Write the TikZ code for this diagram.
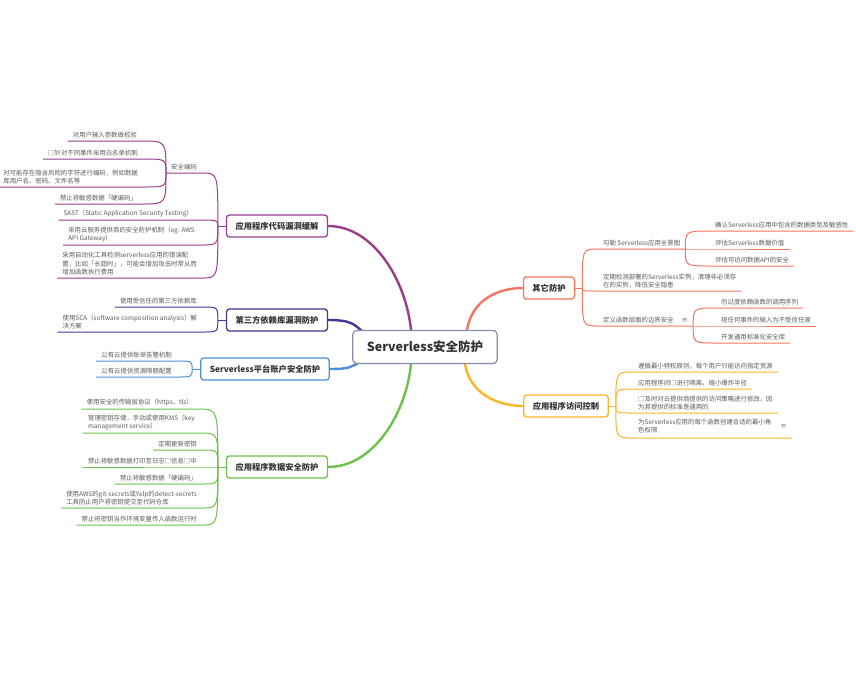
\documentclass[tikz,border=0pt]{standalone}
\usepackage{fontspec}
\setmainfont{Noto Sans CJK SC}
\usetikzlibrary{backgrounds}
\definecolor{codec}{RGB}{152, 62, 140}
\definecolor{libc}{RGB}{72, 54, 150}
\definecolor{acctc}{RGB}{78, 142, 216}
\definecolor{datac}{RGB}{108, 194, 74}
\definecolor{otherc}{RGB}{246, 116, 96}
\definecolor{accessc}{RGB}{251, 182, 40}
\definecolor{rootc}{RGB}{132, 142, 168}
\definecolor{titletext}{RGB}{51, 51, 51}
\definecolor{itemtext}{RGB}{90, 90, 90}

\begin{document}
\begin{tikzpicture}[x=1pt, y=-1pt,
    topic/.style={draw, line width=1.3pt, rounded corners=3pt, fill=white, text=titletext,
        font=\fontsize{8.3}{10}\selectfont\bfseries, inner xsep=9pt, minimum height=22pt},
    leftitem/.style={anchor=south east, inner xsep=5pt, inner ysep=2.5pt, align=left,
        text=itemtext, font=\fontsize{6.4}{8.6}\selectfont},
    rightitem/.style={leftitem, anchor=south west},
    link/.style={line width=1pt},
    trunk/.style={line width=2.4pt, line cap=round}]

        \useasboundingbox (0,0) rectangle (856,683);

        \node[draw=rootc, line width=1.2pt, rounded corners=4pt, fill=white, text=titletext,
            font=\fontsize{12.5}{15}\selectfont\bfseries, inner xsep=14pt, minimum height=33pt]
            (root) at (425,347) {Serverless安全防护};

        % main topics
        \node[topic, draw=codec] (b1) at (277,226) {应用程序代码漏洞缓解};
        \node[topic, draw=libc] (b2) at (277,320) {第三方依赖库漏洞防护};
        \node[topic, draw=acctc] (b3) at (265,369) {Serverless平台账户安全防护};
        \node[topic, draw=datac] (b4) at (277,467) {应用程序数据安全防护};
        \node[topic, draw=otherc] (b5) at (549,288) {其它防护};
        \node[topic, draw=accessc] (b6) at (566,406) {应用程序访问控制};

        \coordinate (j1) at ([xshift=-8pt]b1.west);
        \coordinate (j2) at ([xshift=-8pt]b2.west);
        \coordinate (j3) at ([xshift=-8pt]b3.west);
        \coordinate (j4) at ([xshift=-8pt]b4.west);
        \coordinate (j5) at ([xshift=7pt]b5.east);
        \coordinate (j6) at ([xshift=7pt]b6.east);

        % code
        \node[leftitem] (aq) at (202,173) {安全编码};
        \node[leftitem] (a1) at (142,141) {对用户输入参数做校验};
        \node[leftitem] (a2) at (143,159) {□针对不同事件采用白名单机制};
        \node[leftitem] (a3) at (143,187) {对可能存在隐含风险的字符进行编码，例如数据\\库用户名、密码、文件名等};
        \node[leftitem] (a4) at (142,204) {禁止将敏感数据「硬编码」};
        \node[leftitem] (a5) at (198,220) {SAST（Static Application Security Testing）};
        \node[leftitem] (a6) at (200,245) {采用云服务提供商的安全防护机制（eg. AWS\\API Gateway）};
        \node[leftitem] (a7) at (202,278) {采用自动化工具检测serverless应用的错误配\\置，比如「长超时」，可能会增加攻击时常从而\\增加函数执行费用};

        % libraries
        \node[leftitem] (c1) at (202,307) {使用受信任的第三方依赖库};
        \node[leftitem] (c2) at (202,332) {使用SCA（software composition analysis）解\\决方案};

        % account
        \node[leftitem] (d1) at (177,361) {公有云提供账单告警机制};
        \node[leftitem] (d2) at (177,377) {公有云提供资源限额配置};

        % data
        \node[leftitem] (e1) at (198,409) {使用安全的传输层协议（https、tls）};
        \node[leftitem] (e2) at (200,433) {管理密钥存储，手动或使用KMS（key\\management service）};
        \node[leftitem] (e3) at (202,450) {定期更新密钥};
        \node[leftitem] (e4) at (202,467) {禁止将敏感数据打印至日志□信息□中};
        \node[leftitem] (e5) at (202,484) {禁止将敏感数据「硬编码」};
        \node[leftitem] (e6) at (202,508) {使用AWS的git-secrets或Yelp的detect-secrets\\工具防止用户将密钥提交至代码仓库};
        \node[leftitem] (e7) at (202,525) {禁止将密钥当作环境变量传入函数运行时};

        % other
        \node[rightitem] (f1) at (598,249) {勾勒 Serverless应用全景图};
        \node[rightitem] (f11) at (710,231) {确认Serverless应用中包含的数据类型及敏感性};
        \node[rightitem] (f12) at (710,249) {评估Serverless数据价值};
        \node[rightitem] (f13) at (710,266) {评估可访问数据API的安全};
        \node[rightitem] (f2) at (598,291) {定期检测部署的Serverless实例，清理非必须存\\在的实例，降低安全隐患};
        \node[rightitem] (f3) at (598,326) {定义函数层面的边界安全\hspace{8pt}≡};
        \node[rightitem] (f31) at (716,308) {勿过度依赖函数的调用序列};
        \node[rightitem] (f32) at (716,326) {视任何事件的输入为不受信任源};
        \node[rightitem] (f33) at (716,343) {开发通用标准化安全库};

        % access
        \node[rightitem] (g1) at (633,372) {遵循最小特权原则，每个用户只能访问指定资源};
        \node[rightitem] (g2) at (633,389) {应用程序间□进行隔离，缩小爆炸半径};
        \node[rightitem] (g3) at (633,413) {□及时对云提供商提供的访问策略进行修改，因\\为其提供的标准是通用的};
        \node[rightitem] (g4) at (633,438) {\begin{tabular}{@{}l@{}}为Serverless应用的每个函数创建合适的最小角\\色权限\end{tabular}\hspace{9pt}≡};

        \begin{scope}[on background layer]
            \fill[white] (0,0) rectangle (856,683);

            \draw[trunk, codec] ([xshift=-14pt]root.north) .. controls +(-5,-50) and +(45,0) .. (b1.east);
            \draw[trunk, libc] ([xshift=12pt,yshift=-3pt]root.north west) .. controls +(-10,-8) and +(25,0) .. (b2.east);
            \draw[trunk, acctc] ([xshift=8pt,yshift=2pt]root.south west) .. controls +(-10,5) and +(20,0) .. (b3.east);
            \draw[trunk, datac] ([xshift=-14pt]root.south) .. controls +(-5,50) and +(45,0) .. (b4.east);
            \draw[trunk, otherc] ([xshift=42pt]root.north) .. controls +(5,-30) and +(-25,0) .. (b5.west);
            \draw[trunk, accessc] ([xshift=40pt]root.south) .. controls +(5,30) and +(-25,0) .. (b6.west);

            \draw[link, codec] (b1.west) -- (j1);
            \draw[link, libc] (b2.west) -- (j2);
            \draw[link, acctc] (b3.west) -- (j3);
            \draw[link, datac] (b4.west) -- (j4);
            \draw[link, otherc] (b5.east) -- (j5);
            \draw[link, accessc] (b6.east) -- (j6);

            \foreach \c in {aq,a5,a6,a7}
                \draw[link, codec] (\c.south west) -- (\c.south east) .. controls (\c.south east -| j1) .. (j1);
            \foreach \c in {a1,a2,a3,a4}
                \draw[link, codec] (\c.south west) -- (\c.south east) .. controls (\c.south east -| aq.south west) .. (aq.south west);
            \foreach \c in {c1,c2}
                \draw[link, libc] (\c.south west) -- (\c.south east) .. controls (\c.south east -| j2) .. (j2);
            \foreach \c in {d1,d2}
                \draw[link, acctc] (\c.south west) -- (\c.south east) .. controls (\c.south east -| j3) .. (j3);
            \foreach \c in {e1,e2,e3,e4,e5,e6,e7}
                \draw[link, datac] (\c.south west) -- (\c.south east) .. controls (\c.south east -| j4) .. (j4);

            \foreach \c in {f1,f2,f3}
                \draw[link, otherc] (j5) .. controls (\c.south west -| j5) .. (\c.south west) -- (\c.south east);
            \foreach \c in {f11,f12,f13}
                \draw[link, otherc] (f1.south east) .. controls (\c.south west -| f1.south east) .. (\c.south west) -- (\c.south east);
            \foreach \c in {f31,f32,f33}
                \draw[link, otherc] (f3.south east) .. controls (\c.south west -| f3.south east) .. (\c.south west) -- (\c.south east);
            \foreach \c in {g1,g2,g3,g4}
                \draw[link, accessc] (j6) .. controls (\c.south west -| j6) .. (\c.south west) -- (\c.south east);
        \end{scope}

    \end{tikzpicture}
\end{document}
